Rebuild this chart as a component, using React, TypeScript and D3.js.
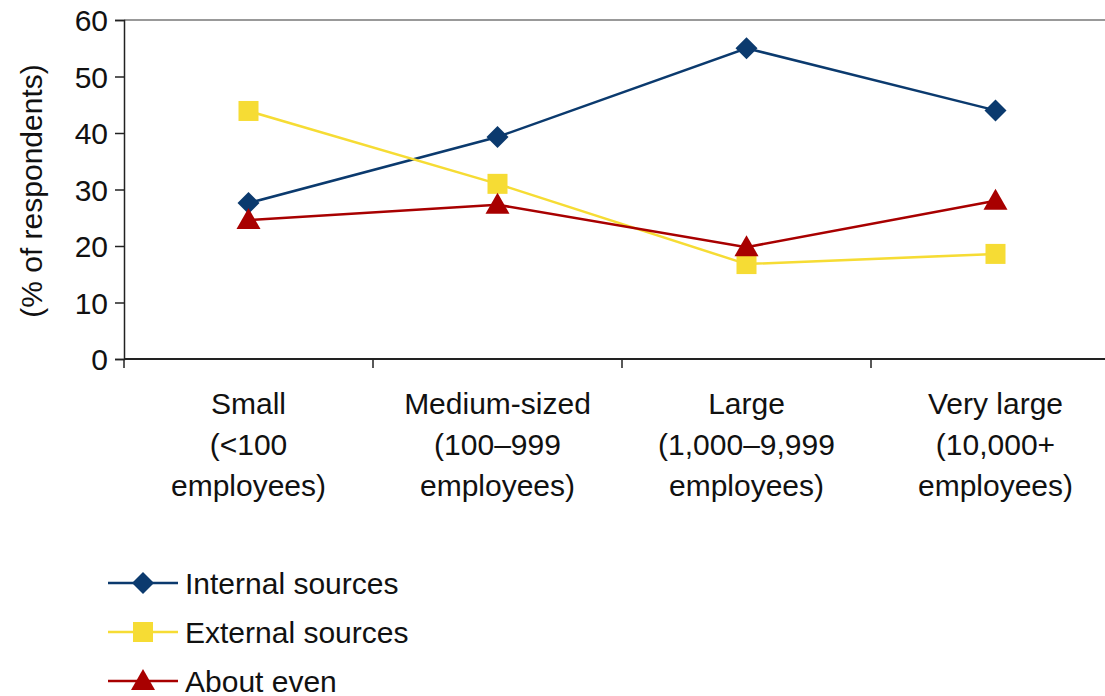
import React, { useEffect, useRef } from "react";
import * as d3 from "d3";

const categories = [
  ["Small", "(<100", "employees)"],
  ["Medium-sized", "(100–999", "employees)"],
  ["Large", "(1,000–9,999", "employees)"],
  ["Very large", "(10,000+", "employees)"],
];
const internalSources = [27.6, 39.3, 55, 44];
const externalSources = [43.9, 31, 16.8, 18.6];
const aboutEven = [24.6, 27.3, 19.8, 28];
const yTicks = [0, 10, 20, 30, 40, 50, 60];

const series = [
  { name: "Internal sources", values: internalSources, color: "#0b3a6e", marker: "diamond" },
  { name: "External sources", values: externalSources, color: "#f6dc34", marker: "square" },
  { name: "About even", values: aboutEven, color: "#a80000", marker: "triangle" },
];

const W = 1105;
const H = 696;

const App: React.FC = () => {
  const svgRef = useRef<SVGSVGElement>(null);

  useEffect(() => {
    if (!svgRef.current) return;
    const svg = d3.select(svgRef.current);
    svg.selectAll("*").remove();

    const left = 124;
    const right = 1120;
    const top = 20;
    const bottom = 359;
    const font = "'Liberation Sans', Arial, sans-serif";
    const fs = "30px";

    const x = d3
      .scaleBand<number>()
      .domain(categories.map((_, i) => i))
      .range([left, right]);
    const y = d3.scaleLinear().domain([0, 60]).range([bottom, top]);

    // plot border (top)
    svg
      .append("line")
      .attr("x1", left)
      .attr("x2", W)
      .attr("y1", top)
      .attr("y2", top)
      .attr("stroke", "#999")
      .attr("stroke-width", 2);

    // y axis
    const yAxis = svg
      .append("g")
      .attr("transform", `translate(${left},0)`)
      .call(d3.axisLeft(y).tickValues(yTicks).tickSize(9).tickPadding(7));
    yAxis.select(".domain").attr("stroke", "#222").attr("stroke-width", 1.5);
    yAxis.selectAll(".tick line").attr("stroke", "#222").attr("stroke-width", 1.5);
    yAxis
      .selectAll("text")
      .attr("font-family", font)
      .attr("font-size", fs)
      .attr("fill", "#111")
      .attr("dy", "0.36em");

    // x axis
    const xAxis = svg
      .append("g")
      .attr("transform", `translate(0,${bottom})`);
    xAxis
      .append("line")
      .attr("x1", left)
      .attr("x2", W)
      .attr("stroke", "#222")
      .attr("stroke-width", 2);
    xAxis
      .selectAll(".tk")
      .data(categories.map((_, i) => i))
      .enter()
      .append("line")
      .attr("x1", (d) => x(d)!)
      .attr("x2", (d) => x(d)!)
      .attr("y1", 0)
      .attr("y2", 9)
      .attr("stroke", "#222")
      .attr("stroke-width", 1.5);

    // category labels
    const labels = svg
      .append("g")
      .selectAll("text")
      .data(categories)
      .enter()
      .append("text")
      .attr("x", (_, i) => x(i)! + x.bandwidth() / 2)
      .attr("y", 414)
      .attr("text-anchor", "middle")
      .attr("font-family", font)
      .attr("font-size", fs)
      .attr("fill", "#111");
    labels
      .selectAll("tspan")
      .data((d) => d)
      .enter()
      .append("tspan")
      .attr("x", function () {
        return (this.parentNode as SVGTextElement).getAttribute("x");
      })
      .attr("dy", (_, i) => (i === 0 ? 0 : 41))
      .text((d) => d);

    // y title
    svg
      .append("text")
      .attr("transform", `translate(42,191) rotate(-90)`)
      .attr("text-anchor", "middle")
      .attr("font-family", font)
      .attr("font-size", fs)
      .attr("fill", "#111")
      .text("(% of respondents)");

    const cx = (i: number) => x(i)! + x.bandwidth() / 2;

    const drawMarker = (
      g: d3.Selection<SVGGElement, unknown, null, undefined>,
      kind: string,
      px: number,
      py: number,
      color: string
    ) => {
      if (kind === "diamond") {
        g.append("path")
          .attr("d", `M${px},${py - 11}L${px + 11},${py}L${px},${py + 11}L${px - 11},${py}Z`)
          .attr("fill", color);
      } else if (kind === "square") {
        g.append("rect")
          .attr("x", px - 10)
          .attr("y", py - 10)
          .attr("width", 20)
          .attr("height", 20)
          .attr("fill", color);
      } else {
        g.append("path")
          .attr("d", `M${px},${py - 12}L${px + 12},${py + 9}L${px - 12},${py + 9}Z`)
          .attr("fill", color);
      }
    };

    const line = d3
      .line<number>()
      .x((_, i) => cx(i))
      .y((d) => y(d));

    series.forEach((s) => {
      const g = svg.append("g");
      g.append("path")
        .attr("d", line(s.values))
        .attr("fill", "none")
        .attr("stroke", s.color)
        .attr("stroke-width", 2.5);
      s.values.forEach((v, i) => drawMarker(g as any, s.marker, cx(i), y(v), s.color));
    });

    // legend
    series.forEach((s, i) => {
      const ly = 583 + i * 49;
      const g = svg.append("g");
      g.append("line")
        .attr("x1", 108)
        .attr("x2", 178)
        .attr("y1", ly)
        .attr("y2", ly)
        .attr("stroke", s.color)
        .attr("stroke-width", 2.5);
      drawMarker(g as any, s.marker, 143, ly, s.color);
      g.append("text")
        .attr("x", 185)
        .attr("y", ly)
        .attr("dy", "0.36em")
        .attr("font-family", font)
        .attr("font-size", fs)
        .attr("fill", "#111")
        .text(s.name);
    });
  }, []);

  return (
    <svg
      ref={svgRef}
      width={W}
      height={H}
      style={{ position: "absolute", left: 0, top: 0, background: "#fff" }}
    />
  );
};

export default App;
